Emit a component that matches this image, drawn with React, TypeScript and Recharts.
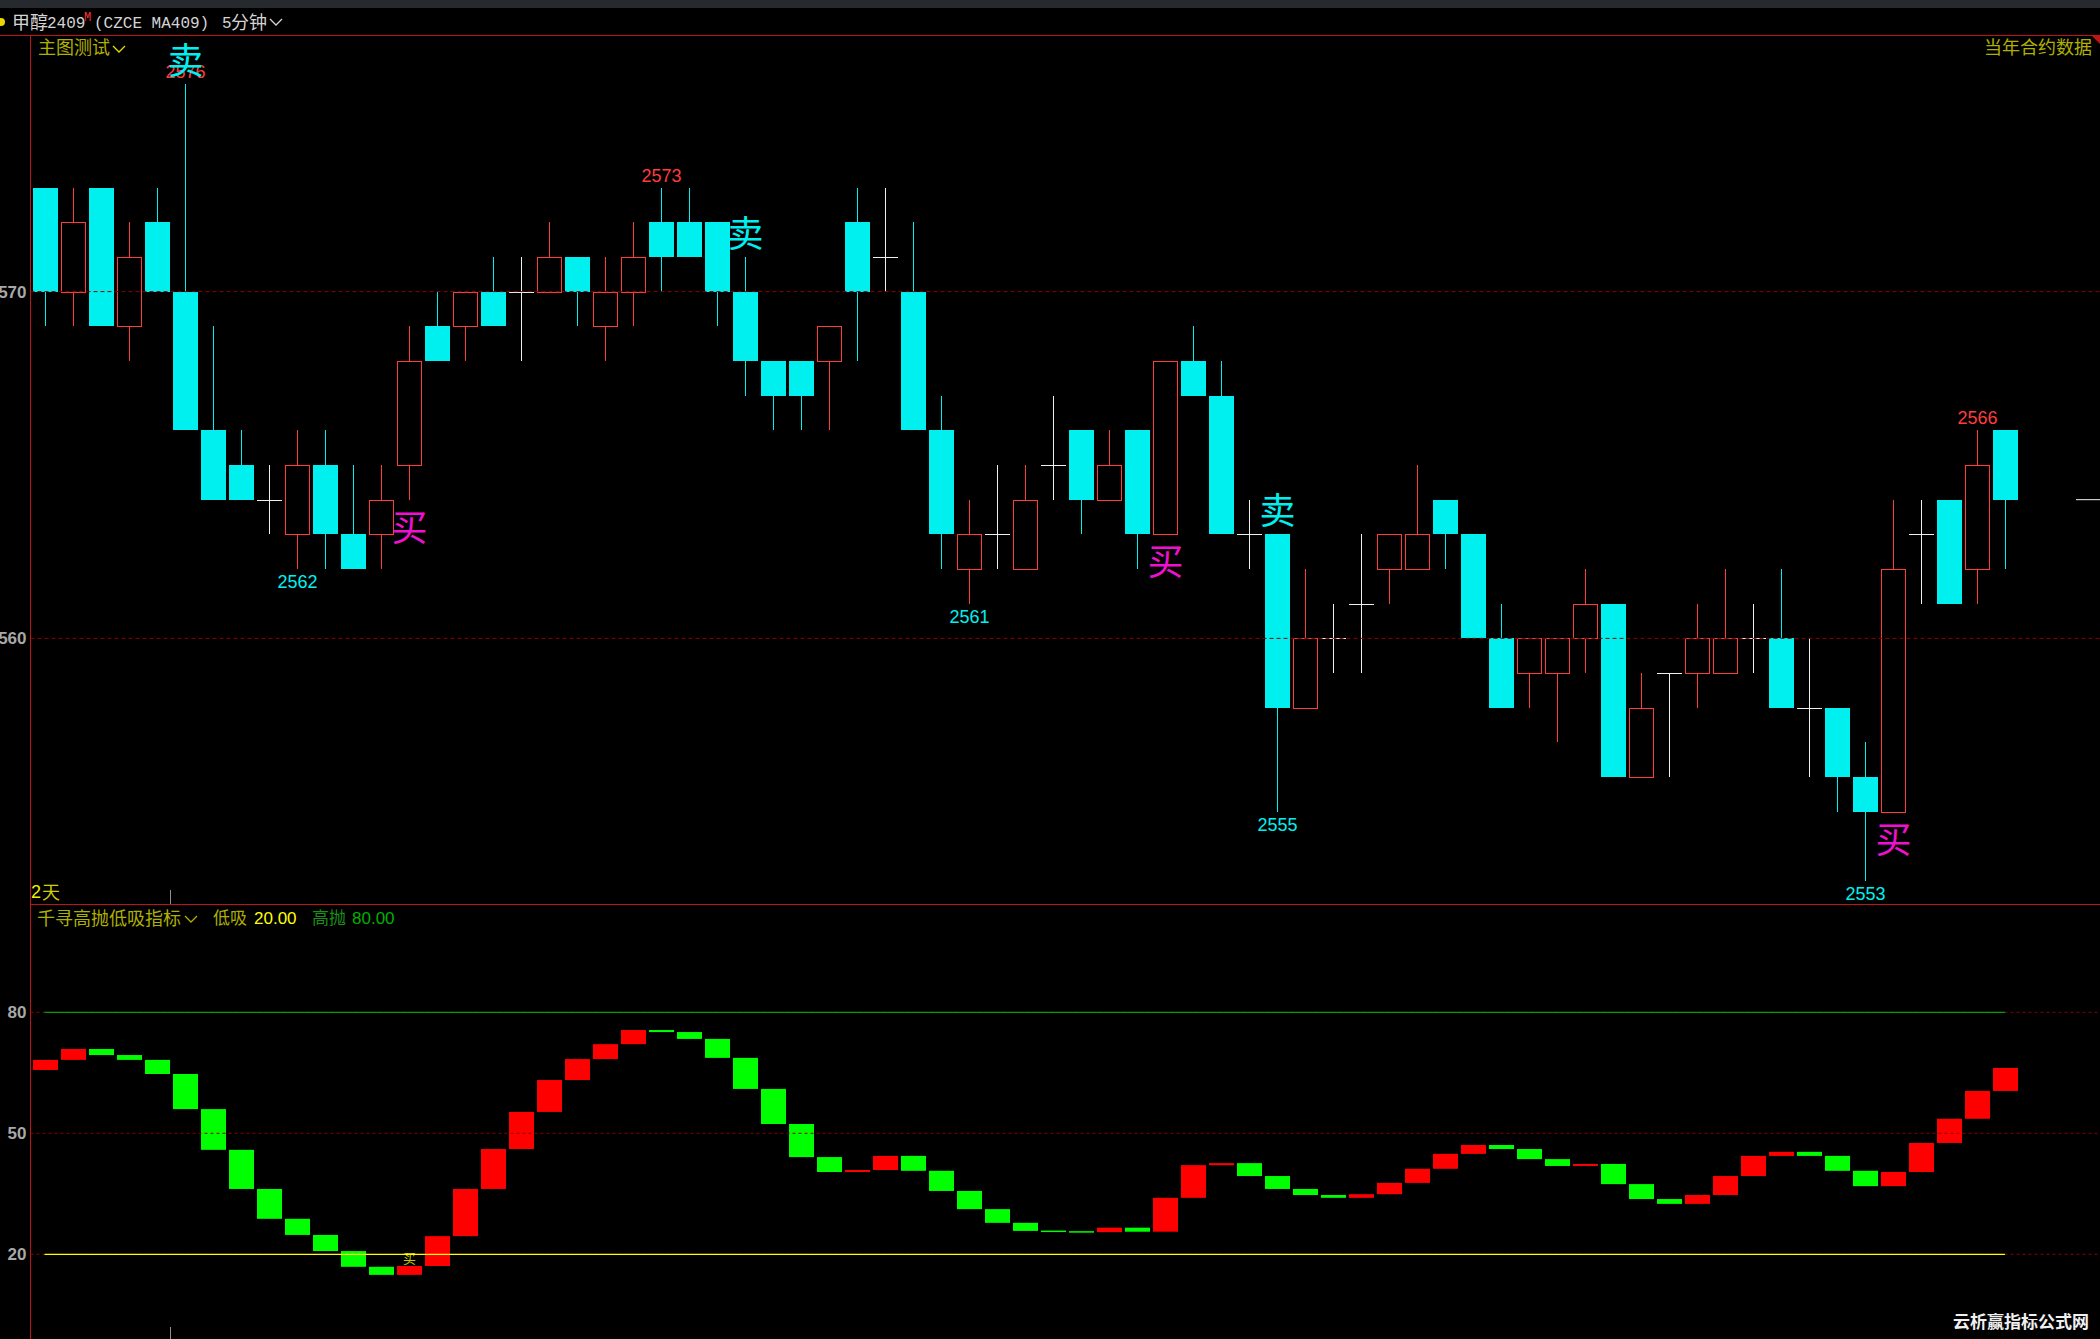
import React from 'react';
import { ComposedChart, Bar, Line, XAxis, YAxis, ReferenceLine } from 'recharts';

const CYAN = '#00F0F0';
const RED = '#FF3C3C';
const WHITE = '#F0F0F0';
const MAGENTA = '#F010D0';
const GRID = '#8A0000';
const AXIS = '#C01414';
const OLIVE = '#B0B000';
const LABEL_GRAY = '#A8A8A8';

// 5-minute candles, methanol 2409
const opens = [
  2573, 2570, 2573, 2569, 2572, 2570, 2566, 2565, 2564, 2563, 2565, 2563, 2563, 2565, 2569, 2569, 2570, 2570,
  2570, 2571, 2569, 2570, 2572, 2572, 2572, 2570, 2568, 2568, 2568, 2572, 2571, 2570, 2566, 2562, 2563, 2562,
  2565, 2566, 2564, 2566, 2563, 2568, 2567, 2563, 2563, 2558, 2560, 2561, 2562, 2562, 2564, 2563, 2560, 2559,
  2559, 2560, 2561, 2556, 2559, 2559, 2559, 2560, 2560, 2558, 2558, 2556, 2555, 2563, 2564, 2562, 2566,
];
const highs = [
  2573, 2573, 2573, 2572, 2573, 2576, 2569, 2566, 2565, 2566, 2566, 2565, 2565, 2569, 2570, 2570, 2571, 2571,
  2572, 2571, 2571, 2572, 2573, 2573, 2572, 2571, 2568, 2568, 2569, 2573, 2573, 2572, 2567, 2564, 2565, 2565,
  2567, 2566, 2566, 2566, 2568, 2569, 2568, 2564, 2563, 2562, 2561, 2563, 2563, 2565, 2564, 2563, 2561, 2560,
  2560, 2562, 2561, 2559, 2559, 2561, 2562, 2561, 2562, 2560, 2558, 2557, 2564, 2564, 2564, 2566, 2566,
];
const lows = [
  2569, 2569, 2569, 2568, 2570, 2566, 2564, 2564, 2563, 2562, 2562, 2562, 2562, 2564, 2568, 2568, 2569, 2568,
  2570, 2569, 2568, 2569, 2570, 2571, 2569, 2567, 2566, 2566, 2566, 2568, 2570, 2566, 2562, 2561, 2562, 2562,
  2564, 2563, 2564, 2562, 2563, 2567, 2563, 2562, 2555, 2558, 2559, 2559, 2561, 2562, 2562, 2560, 2558, 2558,
  2557, 2559, 2556, 2556, 2556, 2558, 2559, 2559, 2558, 2556, 2555, 2553, 2555, 2561, 2561, 2561, 2562,
];
const closes = [
  2570, 2572, 2569, 2571, 2570, 2566, 2564, 2564, 2564, 2565, 2563, 2562, 2564, 2568, 2568, 2570, 2569, 2570,
  2571, 2570, 2570, 2571, 2571, 2571, 2570, 2568, 2567, 2567, 2569, 2570, 2571, 2566, 2563, 2563, 2563, 2564,
  2565, 2564, 2565, 2563, 2568, 2567, 2563, 2563, 2558, 2560, 2560, 2561, 2563, 2563, 2563, 2560, 2558, 2560,
  2560, 2561, 2556, 2558, 2559, 2560, 2560, 2560, 2558, 2558, 2556, 2555, 2562, 2563, 2561, 2565, 2564,
];

// oscillator (千寻高抛低吸指标): value before the first bar, then one value per bar
const oscStart = 65.7;
const osc = [
  68.2, 70.9, 69.4, 68.2, 64.7, 56.0, 45.9, 36.2, 28.8, 24.8, 20.8, 16.9, 14.9, 17.1, 24.5, 36.2, 46.1, 55.3,
  63.2, 68.4, 72.1, 75.6, 75.1, 73.4, 68.7, 61.0, 52.3, 44.1, 40.4, 40.9, 44.4, 40.7, 35.7, 31.2, 27.8, 25.8,
  25.6, 25.5, 26.6, 25.6, 34.0, 42.1, 42.6, 39.4, 36.2, 34.7, 34.0, 34.9, 37.7, 41.2, 44.9, 47.1, 46.1, 43.6,
  41.9, 42.4, 37.4, 33.7, 32.5, 34.7, 39.4, 44.4, 45.4, 44.4, 40.7, 36.9, 40.4, 47.6, 53.6, 60.5, 66.2,
];

const sellAt = [5, 25, 44];
const buyAt = [13, 40, 66];
const highTags = [5, 22, 69];
const lowTags = [9, 33, 44, 65];
const oscBuyAt = [13];

const priceTicks = [2560, 2570];
const oscTicks = [20, 50, 80];
const LOW_LEVEL = 20;
const HIGH_LEVEL = 80;
const SLOTS = 74;

const rows = Array.from({ length: SLOTS }, (_, i) => {
  if (i >= opens.length) return { i };
  const prev = i === 0 ? oscStart : osc[i - 1];
  return {
    i,
    open: opens[i],
    high: highs[i],
    low: lows[i],
    close: closes[i],
    range: [lows[i], highs[i]],
    oscRange: [Math.min(prev, osc[i]), Math.max(prev, osc[i])],
    oscUp: osc[i] >= prev,
    hiLine: HIGH_LEVEL,
    loLine: LOW_LEVEL,
    sell: sellAt.includes(i),
    buy: buyAt.includes(i),
    tagHigh: highTags.includes(i),
    tagLow: lowTags.includes(i),
    oscBuy: oscBuyAt.includes(i),
  };
});

function Candle(props: any) {
  const { x, y, width, height, payload } = props;
  if (!payload || payload.high == null) return null;
  const top = Math.min(y, y + height);
  const bot = Math.max(y, y + height);
  const span = payload.high - payload.low;
  const k = span > 0 ? (bot - top) / span : 0;
  const py = (p: number) => Math.round(top + (payload.high - p) * k);
  const l = Math.round(x);
  const r = Math.round(x + width);
  const cx = Math.round(x + width / 2) + 0.5;
  const { open, close } = payload;
  const yH = py(payload.high), yL = py(payload.low), yO = py(open), yC = py(close);

  let body;
  if (close > open) {
    body = (
      <g>
        <line x1={cx} x2={cx} y1={yH} y2={yC} stroke={RED} />
        <line x1={cx} x2={cx} y1={yO} y2={yL} stroke={RED} />
        <rect x={l + 0.5} y={yC + 0.5} width={r - l - 1} height={yO - yC} fill="none" stroke={RED} />
      </g>
    );
  } else if (close < open) {
    body = (
      <g>
        <line x1={cx} x2={cx} y1={yH} y2={yL} stroke={CYAN} />
        <rect x={l} y={yO} width={r - l} height={yC - yO} fill={CYAN} />
      </g>
    );
  } else {
    body = (
      <g>
        <line x1={cx} x2={cx} y1={yH} y2={yL} stroke={WHITE} />
        <line x1={l} x2={r} y1={yO + 0.5} y2={yO + 0.5} stroke={WHITE} />
      </g>
    );
  }

  const num = { fontFamily: '"Liberation Sans", Arial, sans-serif', fontSize: 18, textAnchor: 'middle' as const, dominantBaseline: 'central' as const };
  const sig = { fontFamily: '"Noto Sans CJK SC", sans-serif', fontSize: 36, textAnchor: 'middle' as const, dominantBaseline: 'central' as const };

  return (
    <g>
      {body}
      {payload.tagHigh && <text x={cx} y={yH - 12} fill={RED} {...num}>{payload.high}</text>}
      {payload.tagLow && <text x={cx} y={yL + 13} fill={CYAN} {...num}>{payload.low}</text>}
      {payload.sell && <text x={cx} y={yH - 26} fill={CYAN} {...sig}>卖</text>}
      {payload.buy && <text x={cx} y={yL + 25} fill={MAGENTA} {...sig}>买</text>}
    </g>
  );
}

function OscBar(props: any) {
  const { x, y, width, height, payload } = props;
  if (!payload || !payload.oscRange) return null;
  let top = Math.min(y, y + height);
  let h = Math.abs(height);
  if (h < 1.5) {
    top -= (1.5 - h) / 2;
    h = 1.5;
  }
  const l = Math.round(x);
  const r = Math.round(x + width);
  return (
    <g>
      <rect x={l} y={top} width={r - l} height={h} fill={payload.oscUp ? '#FF0000' : '#00FF00'} />
      {payload.oscBuy && (
        <text x={l + (r - l) / 2} y={top - 8} fill="#C8C800" fontSize={13} textAnchor="middle" dominantBaseline="central"
          fontFamily='"Noto Sans CJK SC", sans-serif'>买</text>
      )}
    </g>
  );
}

const CJK = '"Noto Sans CJK SC", sans-serif';
const MONO = '"Liberation Mono", monospace';
const SANS = '"Liberation Sans", Arial, sans-serif';

function T({ x, cy, size, color, font = CJK, weight = 400, children }: any) {
  const k = font === MONO ? 0.4 : font === SANS ? 0.49 : 0.56;
  return (
    <span style={{
      position: 'absolute', left: x, top: cy - k * size, fontSize: size, lineHeight: `${size}px`,
      color, fontFamily: font, fontWeight: weight, whiteSpace: 'nowrap',
    }}>{children}</span>
  );
}

function Chevron({ x, y, color }: any) {
  return (
    <svg style={{ position: 'absolute', left: x, top: y }} width={14} height={8}>
      <polyline points="1,1 7,7 13,1" fill="none" stroke={color} strokeWidth={1.3} />
    </svg>
  );
}

const tickStyle = { fill: LABEL_GRAY, fontSize: 17, fontWeight: 700, fontFamily: SANS };
const CHART_W = 2103;
const CHART_MARGIN = { top: 0, right: 0, bottom: 0, left: 0.5 };

export default function App() {
  return (
    <div style={{ position: 'absolute', left: 0, top: 0, width: 2100, height: 1339, background: '#000', overflow: 'hidden' }}>
      <div style={{ position: 'absolute', left: 0, top: 0, width: 2100, height: 8, background: '#26292E' }} />

      {/* main price panel */}
      <div style={{ position: 'absolute', left: 0, top: 35 }}>
        <ComposedChart width={CHART_W} height={869} data={rows} margin={CHART_MARGIN}>
          <XAxis dataKey="i" hide />
          <YAxis
            domain={[2552.34, 2577.4]}
            allowDataOverflow
            ticks={priceTicks}
            width={30}
            tickSize={2}
            tickMargin={2}
            tickLine={false}
            axisLine={{ stroke: AXIS }}
            tick={tickStyle}
          />
          {priceTicks.map(v => (
            <ReferenceLine key={v} y={v} stroke={GRID} strokeDasharray="4 3" />
          ))}
          <ReferenceLine
            y={closes[closes.length - 1]}
            stroke={WHITE}
            shape={(p: any) => (p && p.x2 != null ? <line x1={p.x2 - 27} x2={p.x2 - 3} y1={p.y1} y2={p.y2} stroke={WHITE} /> : null)}
          />
          <Bar dataKey="range" barSize={25} shape={(p: any) => <Candle {...p} />} isAnimationActive={false} />
        </ComposedChart>
      </div>

      {/* indicator panel */}
      <div style={{ position: 'absolute', left: 0, top: 905 }}>
        <ComposedChart width={CHART_W} height={434} data={rows} margin={CHART_MARGIN}>
          <XAxis dataKey="i" hide />
          <YAxis
            domain={[-1, 106.6]}
            allowDataOverflow
            ticks={oscTicks}
            width={30}
            tickSize={2}
            tickMargin={2}
            tickLine={false}
            axisLine={{ stroke: AXIS }}
            tick={tickStyle}
          />
          {oscTicks.map(v => (
            <ReferenceLine key={v} y={v} stroke={GRID} strokeDasharray="3 3" />
          ))}
          <Line dataKey="hiLine" stroke="#00A000" strokeWidth={1.3} dot={false} isAnimationActive={false} />
          <Line dataKey="loLine" stroke="#FFFF00" strokeWidth={1.3} dot={false} isAnimationActive={false} />
          <Bar dataKey="oscRange" barSize={25} shape={(p: any) => <OscBar {...p} />} isAnimationActive={false} />
        </ComposedChart>
      </div>

      {/* frame lines */}
      <div style={{ position: 'absolute', left: 0, top: 35, width: 2100, height: 1, background: AXIS }} />
      <div style={{ position: 'absolute', left: 30, top: 904, width: 2070, height: 1, background: AXIS }} />
      <svg style={{ position: 'absolute', left: 2091, top: 35 }} width={9} height={9}>
        <polygon points="0,0 9,0 9,9" fill={AXIS} />
      </svg>
      <div style={{ position: 'absolute', left: 170, top: 890, width: 1, height: 14, background: '#909090' }} />
      <div style={{ position: 'absolute', left: 170, top: 1327, width: 1, height: 12, background: '#909090' }} />

      {/* header */}
      <svg style={{ position: 'absolute', left: 0, top: 17 }} width={6} height={10}>
        <circle cx={1} cy={5} r={4} fill="#E8D800" />
      </svg>
      <T x={12} cy={22} size={18} color="#D4D4D4">甲醇</T>
      <T x={47} cy={22} size={16} color="#D4D4D4" font={MONO}>2409</T>
      <T x={84} cy={17} size={12} color="#FF3030" font={MONO}>M</T>
      <T x={94} cy={22} size={16} color="#D4D4D4" font={MONO}>(CZCE MA409)</T>
      <T x={222} cy={22} size={16} color="#D4D4D4" font={MONO}>5</T>
      <T x={231} cy={22} size={18} color="#D4D4D4">分钟</T>
      <Chevron x={269} y={18} color="#D4D4D4" />

      <T x={38} cy={47.5} size={18} color={OLIVE}>主图测试</T>
      <Chevron x={112} y={45} color="#E0E000" />
      <T x={1984} cy={47.5} size={18} color={OLIVE}>当年合约数据</T>

      <T x={31} cy={892} size={18} color="#F0F000" font={SANS}>2</T>
      <T x={42} cy={892} size={18} color="#D0D000">天</T>

      <T x={37} cy={918} size={18} color={OLIVE}>千寻高抛低吸指标</T>
      <Chevron x={184} y={915} color={OLIVE} />
      <T x={213} cy={918} size={17} color={OLIVE}>低吸</T>
      <T x={254} cy={918} size={17} color="#FFFF00" font={SANS}>20.00</T>
      <T x={312} cy={918} size={17} color="#189018">高抛</T>
      <T x={352} cy={918} size={17} color="#00B000" font={SANS}>80.00</T>

      <T x={1953} cy={1322} size={17} color="#F0F0F0" weight={700}>云析赢指标公式网</T>
    </div>
  );
}
